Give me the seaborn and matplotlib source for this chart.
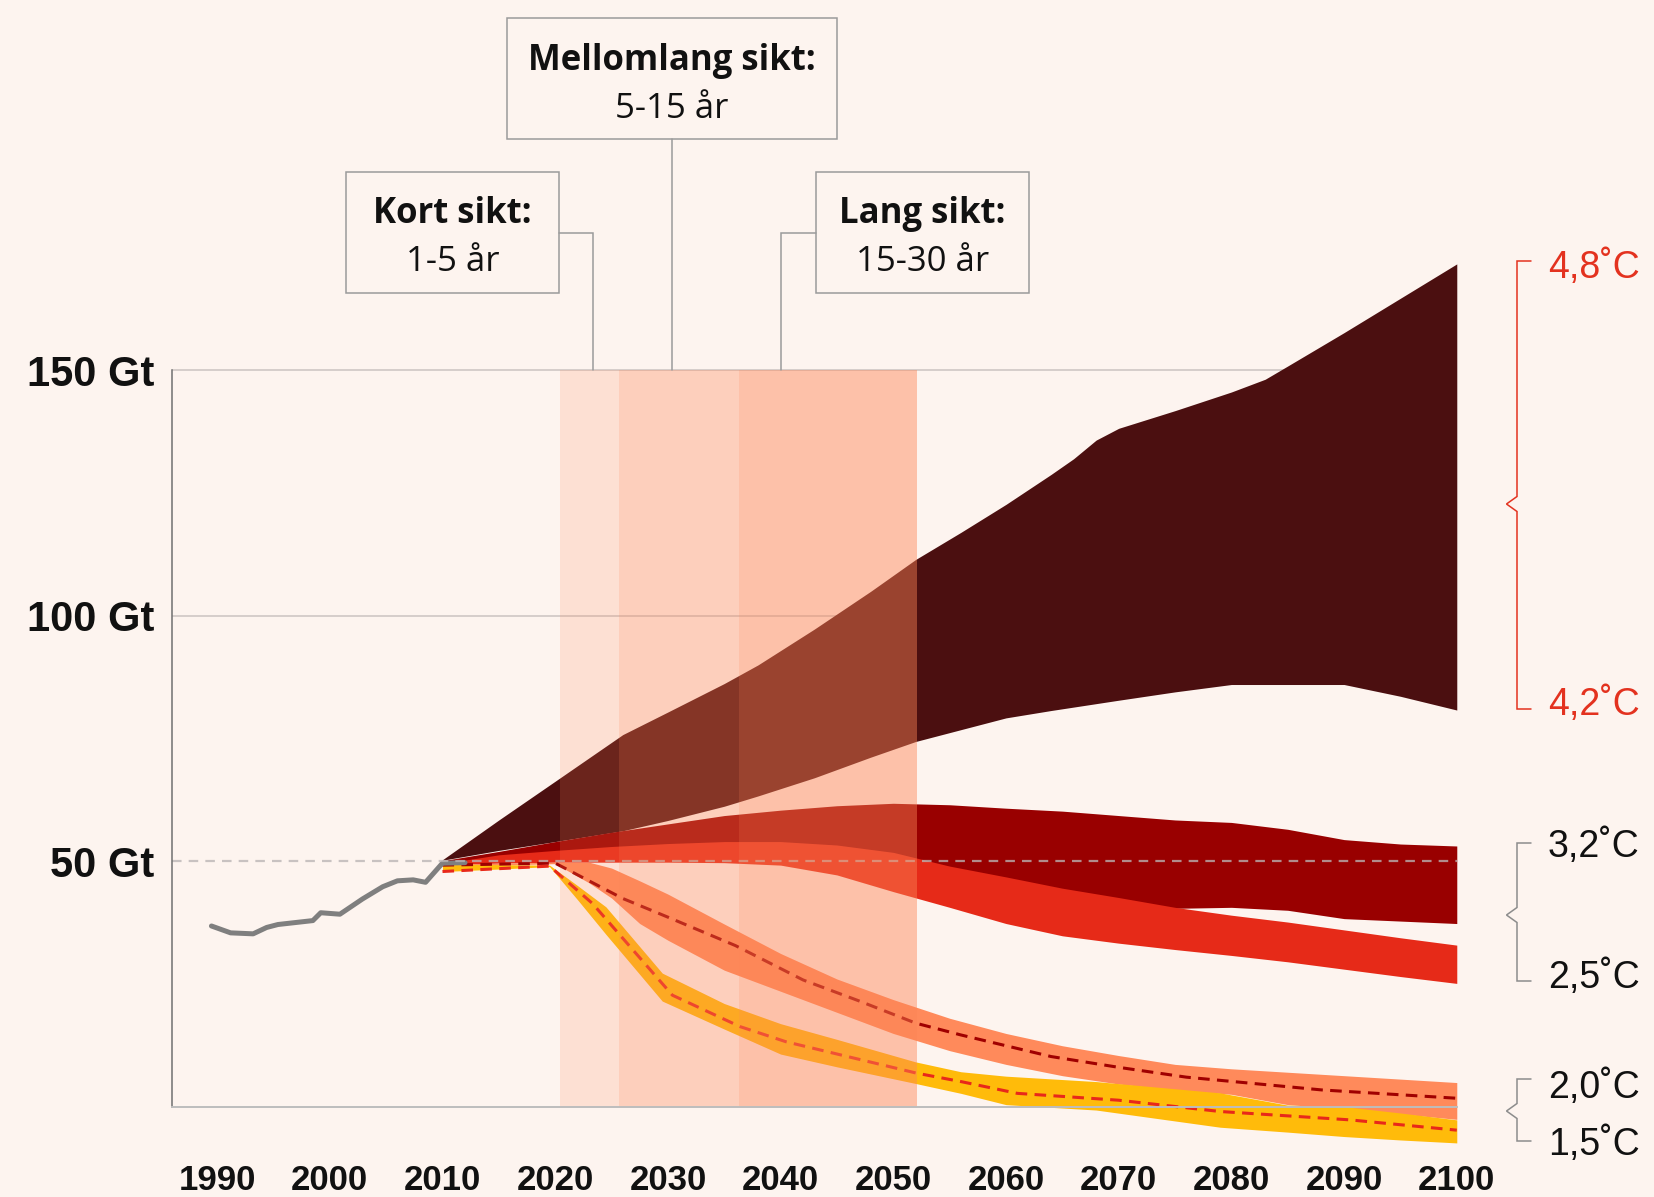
import matplotlib
matplotlib.use("Agg")
import matplotlib.pyplot as plt
from matplotlib.lines import Line2D
from matplotlib.patches import Rectangle
import seaborn as sns

# ---------------- data (Gt CO2-eq per year) ----------------
hist_years = [1989.5, 1991.2, 1993.2, 1994.4, 1995.4, 1998.5, 1999.2, 2000.9,
              2002.9, 2004.7, 2006.0, 2007.4, 2008.5, 2010.0, 2012.0]
hist_vals = [36.8, 35.4, 35.2, 36.5, 37.1, 37.9, 39.5, 39.2,
             42.3, 44.8, 46.0, 46.2, 45.7, 49.6, 49.7]

# 4.2-4.8 C
dark_years = [2010, 2015, 2020, 2026, 2030, 2035, 2038, 2043, 2048, 2052, 2056, 2060,
              2064, 2066, 2068, 2070, 2075, 2080, 2083, 2085, 2090, 2095, 2100]
dark_top = [50.3, 58.4, 66.3, 75.8, 80.4, 86.2, 90.0, 97.3, 105.0, 111.5, 117.0, 122.7,
            128.8, 132.0, 135.8, 138.2, 141.8, 145.6, 148.2, 150.9, 157.7, 164.7, 171.7]
dark_low = [50.2, 52.2, 54.0, 56.2, 58.3, 61.2, 63.3, 67.0, 71.2, 74.4, 76.8, 79.2,
            80.7, 81.4, 82.1, 82.8, 84.5, 86.0, 86.0, 86.0, 86.0, 83.6, 80.8]

band_years = [2010, 2015, 2020, 2025, 2030, 2035, 2040, 2045, 2050, 2055,
              2060, 2065, 2070, 2075, 2080, 2085, 2090, 2095, 2100]
# 3.2 C
dred_top = [50.1, 52.0, 54.0, 55.9, 57.6, 59.3, 60.4, 61.3, 61.8, 61.5,
            60.8, 60.2, 59.3, 58.4, 57.9, 56.5, 54.4, 53.5, 53.1]
dred_low = [49.5, 51.0, 52.0, 52.8, 53.4, 53.8, 53.8, 53.1, 51.5, 48.5,
            46.5, 44.0, 42.0, 40.4, 40.6, 40.0, 38.3, 37.8, 37.3]
# 2.5 C
red_top = [49.5, 51.3, 52.2, 53.0, 53.6, 54.0, 54.0, 53.3, 51.8, 49.0,
           46.8, 44.5, 42.6, 40.6, 39.0, 37.6, 36.0, 34.4, 32.9]
red_low = [49.3, 49.6, 49.8, 49.8, 49.8, 49.7, 49.2, 47.2, 43.8, 40.6,
           37.3, 34.8, 33.3, 32.0, 30.8, 29.5, 28.0, 26.5, 25.1]

# 2.0 C
sal_years = [2010, 2015, 2020, 2023, 2025, 2027.5, 2030, 2035, 2040, 2045, 2050,
             2055, 2060, 2065, 2070, 2075, 2080, 2085, 2090, 2095, 2100]
sal_top = [49.4, 49.6, 49.8, 49.8, 48.6, 46.0, 43.3, 37.2, 31.2, 26.0, 21.8,
           18.0, 14.9, 12.4, 10.4, 8.6, 7.7, 7.0, 6.3, 5.6, 4.9]
sal_low = [49.0, 49.2, 49.5, 45.6, 42.5, 37.3, 33.9, 27.8, 23.5, 19.2, 14.9,
           11.4, 8.6, 6.3, 4.6, 3.4, 2.5, 0.4, -0.4, -1.5, -2.6]
sal_med_years = [2010, 2015, 2020, 2026, 2030, 2036, 2042, 2047, 2052, 2056,
                 2064, 2070, 2076, 2088, 2100]
sal_med = [49.2, 49.4, 49.6, 42.4, 38.6, 32.8, 25.8, 21.5, 17.0, 14.6,
           10.2, 8.0, 6.0, 3.4, 1.7]

# 1.5 C
yel_years = [2010, 2015, 2019.5, 2022, 2024.5, 2029.5, 2035, 2040, 2045, 2052,
             2056, 2060, 2068, 2079, 2085, 2090, 2095, 2100]
yel_top = [49.4, 49.3, 49.2, 45.0, 40.7, 27.2, 21.0, 16.9, 13.7, 9.1,
           7.1, 6.2, 5.1, 2.8, 0.3, 0.0, -1.3, -2.7]
yel_low = [47.9, 48.4, 48.9, 42.1, 35.1, 21.5, 15.8, 10.7, 8.1, 4.7,
           2.7, 0.4, -0.7, -4.2, -5.2, -6.1, -6.8, -7.4]
yel_med_years = [2010, 2019.5, 2023.3, 2030.4, 2036.4, 2040.5, 2052.1, 2056,
                 2061, 2070, 2079, 2090.5, 2100]
yel_med = [47.9, 49.0, 41.4, 22.7, 16.3, 13.2, 6.8, 5.1, 2.7, 1.3, -1.0, -2.7, -4.8]

span_starts = [2020.4, 2025.7, 2036.3]
span_end = 2052.1

xtick_years = [1990, 2000, 2010, 2020, 2030, 2040, 2050, 2060, 2070, 2080, 2090, 2100]
ytick_vals = [50, 100, 150]
ytick_labels = ["50 Gt", "100 Gt", "150 Gt"]

box_titles = ["Kort sikt:", "Mellomlang sikt:", "Lang sikt:"]
box_subs = ["1-5 år", "5-15 år", "15-30 år"]
temp_labels = ["4,8˚C", "4,2˚C", "3,2˚C", "2,5˚C", "2,0˚C", "1,5˚C"]

# ---------------- style ----------------
BG = "#FDF4EF"
C_DARK = "#4B0F10"
C_DRED = "#990000"
C_RED = "#E62A18"
C_SAL = "#FF8A5B"
C_YEL = "#FFBB0A"
C_SPAN = "#FD8658"
C_TEMP_RED = "#E3321F"
C_GRAY_BR = "#8C8C8C"

sns.set_theme(style="white")
plt.rcParams["font.family"] = ["Liberation Sans", "DejaVu Sans"]

W, H = 1654, 1197
fig = plt.figure(figsize=(W / 100, H / 100), dpi=100, facecolor=BG)

# axes placement (pixel based)
XL, XR = 1986.0, 2100.2
YB, YT = -9.0, 176.0
px_per_year = 11.27
px_per_gt = 4.908
ax_left = 172
ax_w = (XR - XL) * px_per_year
y0_px = 1106.6
ax_bottom_px = y0_px - YB * px_per_gt
ax_h = (YT - YB) * px_per_gt
ax = fig.add_axes([ax_left / W, 1 - ax_bottom_px / H, ax_w / W, ax_h / H])
ax.set_facecolor(BG)
ax.set_xlim(XL, XR)
ax.set_ylim(YB, YT)

# grid lines
ax.hlines([100, 150], XL, 2100, color="#D5CDCB", lw=1.4, zorder=0.5)

# bands
ax.fill_between(dark_years, dark_low, dark_top, color=C_DARK, lw=0, zorder=1.0)
ax.fill_between(band_years, dred_low, dred_top, color=C_DRED, lw=0, zorder=1.1)
ax.fill_between(band_years, red_low, red_top, color=C_RED, lw=0, zorder=1.2)
ax.fill_between(sal_years, sal_low, sal_top, color=C_SAL, lw=0, zorder=1.3)
ax.fill_between(yel_years, yel_low, yel_top, color=C_YEL, lw=0, zorder=1.4)

# median dashed lines
sns.lineplot(x=sal_med_years, y=sal_med, ax=ax, color="#A00000", lw=2.2,
             linestyle=(0, (3.8, 2.4)), zorder=2.0, legend=False)
sns.lineplot(x=yel_med_years, y=yel_med, ax=ax, color="#E8281A", lw=2.2,
             linestyle=(0, (3.8, 2.4)), zorder=2.0, legend=False)

# historical emissions
sns.lineplot(x=hist_years, y=hist_vals, ax=ax, color="#7F7F7F", lw=3.6,
             zorder=2.1, legend=False, solid_capstyle="round")

# 50 Gt reference dashed line (semi-transparent gray)
ax.hlines(50, XL, 2100, color="#BAB5B5", alpha=0.78, lw=1.6,
          linestyles=(0, (4.3, 3.2)), zorder=2.2)

# time-horizon spans (stacked translucent)
for s in span_starts:
    ax.fill_between([s, span_end], 0, 150, color=C_SPAN, alpha=0.18, lw=0, zorder=3)

# spines / ticks
for side in ["top", "right"]:
    ax.spines[side].set_visible(False)
ax.spines["left"].set_bounds(0, 150)
ax.spines["left"].set_color("#707070")
ax.spines["left"].set_linewidth(1.1)
ax.spines["bottom"].set_position(("data", 0))
ax.spines["bottom"].set_bounds(XL, 2100)
ax.spines["bottom"].set_color("#BDBDBD")
ax.spines["bottom"].set_linewidth(1.4)
ax.spines["bottom"].set_zorder(3.5)

ax.set_xticks(xtick_years)
ax.set_xticklabels([str(y) for y in xtick_years], fontweight="bold", fontsize=25,
                   color="#111111")
ax.set_yticks(ytick_vals)
ax.set_yticklabels(ytick_labels, fontweight="bold", fontsize=30, color="#111111")
ax.tick_params(axis="x", length=0, pad=41)
ax.tick_params(axis="y", length=0, pad=13)
ax.set_xlabel("")
ax.set_ylabel("")
ax.grid(False)


def F(x, y):
    return (x / W, 1 - y / H)


def fline(xs, ys, color, lw):
    fx = [x / W for x in xs]
    fy = [1 - y / H for y in ys]
    fig.add_artist(Line2D(fx, fy, transform=fig.transFigure, color=color, lw=lw,
                          solid_joinstyle="miter"))


# annotation boxes
BOX_C = "#9B9B9B"
boxes = [(346, 172.3, 559, 293), (506.7, 18.3, 837, 139), (815.8, 172.3, 1028.7, 293)]
title_base = [223.3, 70, 223.3]
sub_base = [270.7, 118.3, 270.7]
for (x0, y0, x1, y1), t, s, tb, sb in zip(boxes, box_titles, box_subs, title_base, sub_base):
    fig.add_artist(Rectangle(F(x0, y1), (x1 - x0) / W, (y1 - y0) / H,
                             transform=fig.transFigure, fill=False, ec=BOX_C, lw=1.1))
    cx = (x0 + x1) / 2
    fig.text(*F(cx, tb), t, ha="center", va="baseline", fontsize=25, fontweight="bold",
             family=["Open Sans", "DejaVu Sans"], color="#111111")
    fig.text(*F(cx, sb), s, ha="center", va="baseline", fontsize=25,
             family=["Open Sans", "DejaVu Sans"], color="#111111")

# connectors
top150 = y0_px - 150 * px_per_gt
fline([559, 593.3, 593.3], [233.3, 233.3, top150], BOX_C, 1.1)
fline([672.3, 672.3], [139, top150], BOX_C, 1.1)
fline([815.8, 781.3, 781.3], [233.3, 233.3, top150], BOX_C, 1.1)


# temperature brackets
def bracket(x, yt, yb, yn, color):
    xs = [x + 14, x, x, x - 10.5, x, x, x + 14]
    ys = [yt, yt, yn - 7.5, yn, yn + 7.5, yb, yb]
    fline(xs, ys, color, 1.1)


bracket(1517, 261, 709, 504, C_TEMP_RED)
bracket(1517, 843, 981, 915, C_GRAY_BR)
bracket(1517, 1079, 1141, 1111, C_GRAY_BR)

temp_base = [278, 715, 856.7, 988.3, 1098.3, 1155]
temp_cols = [C_TEMP_RED, C_TEMP_RED, "#111111", "#111111", "#111111", "#111111"]
for lab, yb, c in zip(temp_labels, temp_base, temp_cols):
    fig.text(*F(1548, yb), lab, ha="left", va="baseline", fontsize=27, color=c,
             family=["Liberation Sans", "DejaVu Sans"])

fig.savefig("out.png", dpi=100, facecolor=BG)
